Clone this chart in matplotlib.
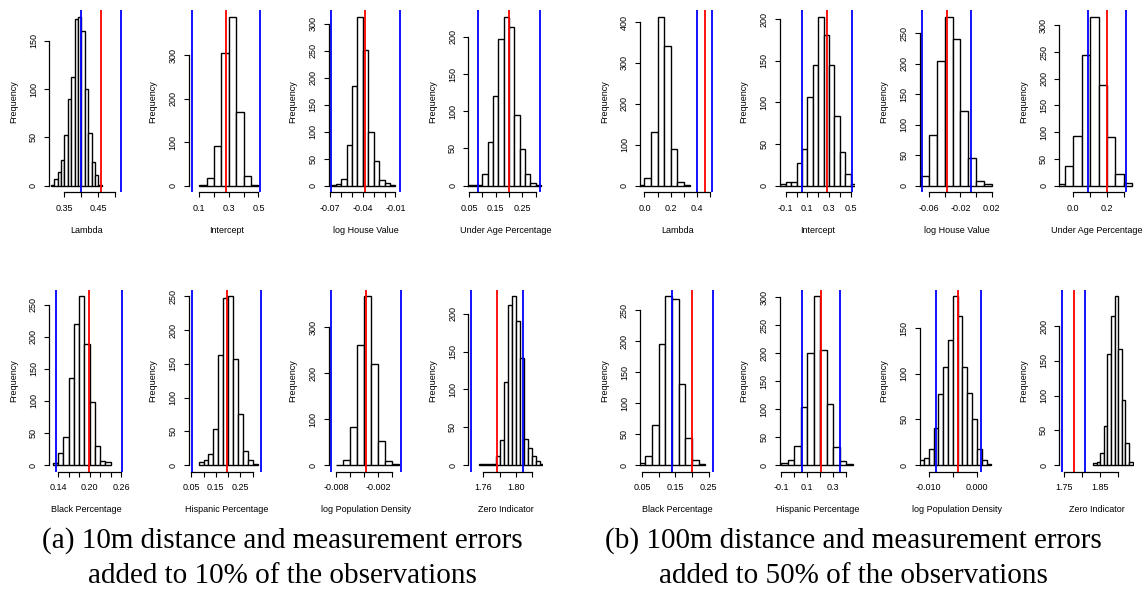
import numpy as np
import matplotlib
matplotlib.use("Agg")
import matplotlib.pyplot as plt
from matplotlib.transforms import offset_copy

# ---------------- data: (a) 10m errors on 10% of observations ----------------
lam10_breaks = [0.31, 0.32, 0.33, 0.34, 0.35, 0.36, 0.37, 0.38, 0.39, 0.40,
                0.41, 0.42, 0.43, 0.44, 0.45, 0.46]
lam10_counts = [1, 7, 14, 26, 52, 90, 113, 173, 175, 160, 100, 54, 24, 11, 1]
lam10_lines = [0.399, 0.457, 0.516]
lam10_ticks = [0.35, 0.40, 0.45, 0.50]
lam10_labels = ["0.35", "", "0.45", ""]

int10_breaks = [0.10, 0.15, 0.20, 0.25, 0.30, 0.35, 0.40, 0.45, 0.50]
int10_counts = [2, 17, 90, 305, 388, 169, 21, 2]
int10_lines = [0.048, 0.283, 0.514]
int10_ticks = [0.1, 0.2, 0.3, 0.4, 0.5]
int10_labels = ["0.1", "", "0.3", "", "0.5"]

hv10_breaks = [-0.070, -0.065, -0.060, -0.055, -0.050, -0.045, -0.040,
               -0.035, -0.030, -0.025, -0.020, -0.015, -0.010]
hv10_counts = [1, 3, 12, 76, 185, 313, 251, 100, 45, 10, 4, 1]
hv10_lines = [-0.069, -0.0378, -0.0058]
hv10_ticks = [-0.07, -0.06, -0.05, -0.04, -0.03, -0.02, -0.01]
hv10_labels = ["-0.07", "", "", "-0.04", "", "", "-0.01"]

age10_breaks = [0.04, 0.06, 0.08, 0.10, 0.12, 0.14, 0.16, 0.18, 0.20,
                0.22, 0.24, 0.26, 0.28, 0.30, 0.32]
age10_counts = [1, 1, 1, 16, 59, 120, 197, 227, 213, 95, 49, 16, 4, 1]
age10_lines = [0.085, 0.200, 0.315]
age10_ticks = [0.05, 0.10, 0.15, 0.20, 0.25, 0.30]
age10_labels = ["0.05", "", "0.15", "", "0.25", ""]

blk10_breaks = [0.13, 0.14, 0.15, 0.16, 0.17, 0.18, 0.19, 0.20, 0.21,
                0.22, 0.23, 0.24]
blk10_counts = [3, 18, 43, 136, 219, 263, 189, 99, 29, 7, 4]
blk10_lines = [0.135, 0.1985, 0.262]
blk10_ticks = [0.14, 0.16, 0.18, 0.20, 0.22, 0.24, 0.26]
blk10_labels = ["0.14", "", "", "0.20", "", "", "0.26"]

his10_breaks = [0.08, 0.10, 0.12, 0.14, 0.16, 0.18, 0.20, 0.22, 0.24,
                0.26, 0.28, 0.30, 0.32]
his10_counts = [4, 7, 17, 53, 163, 248, 250, 157, 76, 21, 7, 1]
his10_lines = [0.052, 0.195, 0.335]
his10_ticks = [0.05, 0.10, 0.15, 0.20, 0.25, 0.30]
his10_labels = ["0.05", "", "0.15", "", "0.25", ""]

pop10_breaks = [-0.008, -0.007, -0.006, -0.005, -0.004, -0.003, -0.002,
                -0.001, 0.000, 0.001]
pop10_counts = [1, 12, 82, 260, 367, 219, 52, 9, 2]
pop10_lines = [-0.00872, -0.0037, 0.00125]
pop10_ticks = [-0.008, -0.006, -0.004, -0.002, 0.000]
pop10_labels = ["-0.008", "", "", "-0.002", ""]

zero10_breaks = [1.755, 1.760, 1.765, 1.770, 1.775, 1.780, 1.785, 1.790,
                 1.795, 1.800, 1.805, 1.810, 1.815, 1.820, 1.825, 1.830, 1.835]
zero10_counts = [1, 1, 1, 2, 12, 33, 110, 212, 223, 190, 141, 35, 23, 12, 6, 1]
zero10_lines = [1.745, 1.777, 1.809]
zero10_ticks = [1.76, 1.78, 1.80, 1.82]
zero10_labels = ["1.76", "", "1.80", ""]

# ---------------- data: (b) 100m errors on 50% of observations ----------------
lam100_breaks = [-0.05, 0.00, 0.05, 0.10, 0.15, 0.20, 0.25, 0.30, 0.35]
lam100_counts = [2, 18, 130, 413, 341, 90, 8, 2]
lam100_lines = [0.399, 0.457, 0.516]
lam100_ticks = [0.0, 0.1, 0.2, 0.3, 0.4, 0.5]
lam100_labels = ["0.0", "", "0.2", "", "0.4", ""]

int100_breaks = [-0.15, -0.10, -0.05, 0.00, 0.05, 0.10, 0.15, 0.20, 0.25,
                 0.30, 0.35, 0.40, 0.45, 0.50, 0.55]
int100_counts = [2, 4, 4, 27, 44, 106, 145, 203, 181, 145, 84, 40, 14, 2]
int100_lines = [0.048, 0.283, 0.514]
int100_ticks = [-0.1, 0.0, 0.1, 0.2, 0.3, 0.4, 0.5]
int100_labels = ["-0.1", "", "0.1", "", "0.3", "", "0.5"]

hv100_breaks = [-0.08, -0.07, -0.06, -0.05, -0.04, -0.03, -0.02, -0.01,
                0.00, 0.01, 0.02]
hv100_counts = [1, 16, 83, 205, 277, 241, 122, 46, 7, 3]
hv100_lines = [-0.069, -0.0378, -0.0058]
hv100_ticks = [-0.06, -0.04, -0.02, 0.00, 0.02]
hv100_labels = ["-0.06", "", "-0.02", "", "0.02"]

age100_breaks = [-0.10, -0.05, 0.00, 0.05, 0.10, 0.15, 0.20, 0.25, 0.30, 0.35]
age100_counts = [3, 37, 92, 245, 316, 189, 91, 22, 5]
age100_lines = [0.085, 0.200, 0.313]
age100_ticks = [0.0, 0.1, 0.2, 0.3]
age100_labels = ["0.0", "", "0.2", ""]

blk100_breaks = [0.04, 0.06, 0.08, 0.10, 0.12, 0.14, 0.16, 0.18, 0.20,
                 0.22, 0.24]
blk100_counts = [4, 15, 65, 195, 273, 268, 131, 43, 8, 2]
blk100_lines = [0.141, 0.201, 0.263]
blk100_ticks = [0.05, 0.10, 0.15, 0.20, 0.25]
blk100_labels = ["0.05", "", "0.15", "", "0.25"]

his100_breaks = [-0.10, -0.05, 0.00, 0.05, 0.10, 0.15, 0.20, 0.25, 0.30,
                 0.35, 0.40, 0.45]
his100_counts = [4, 9, 34, 104, 201, 302, 206, 109, 32, 7, 2]
his100_lines = [0.056, 0.205, 0.351]
his100_ticks = [-0.1, 0.0, 0.1, 0.2, 0.3, 0.4]
his100_labels = ["-0.1", "", "0.1", "", "0.3", ""]

pop100_breaks = [-0.012, -0.011, -0.010, -0.009, -0.008, -0.007, -0.006,
                 -0.005, -0.004, -0.003, -0.002, -0.001, 0.000, 0.001,
                 0.002, 0.003]
pop100_counts = [5, 8, 18, 41, 78, 108, 137, 185, 163, 108, 79, 51, 18, 5, 1]
pop100_lines = [-0.0086, -0.0039, 0.0008]
pop100_ticks = [-0.010, -0.005, 0.000]
pop100_labels = ["-0.010", "", "0.000"]

zero100_breaks = [1.83, 1.84, 1.85, 1.86, 1.87, 1.88, 1.89, 1.90, 1.91,
                  1.92, 1.93, 1.94]
zero100_counts = [3, 5, 18, 56, 160, 215, 243, 167, 94, 32, 5]
zero100_lines = [1.745, 1.777, 1.809]
zero100_ticks = [1.75, 1.80, 1.85, 1.90]
zero100_labels = ["1.75", "", "1.85", ""]

var_names = ["Lambda", "Intercept", "log House Value", "Under Age Percentage",
             "Black Percentage", "Hispanic Percentage", "log Population Density",
             "Zero Indicator"]

captions = [("(a) 10m distance and measurement errors",
             "added to 10% of the observations"),
            ("(b) 100m distance and measurement errors",
             "added to 50% of the observations")]

# x ranges of each plot region (axis limits, as in the reference)
xlims_10 = [(0.3058, 0.5264), (0.030, 0.538), (-0.0715, -0.0023), (0.048, 0.329),
            (0.123, 0.266), (0.0407, 0.3463), (-0.00912, 0.00165), (1.7414, 1.8342)]
xlims_100 = [(-0.031, 0.5385), (-0.1526, 0.540), (-0.0723, 0.0240), (-0.082, 0.362),
             (0.045, 0.270), (-0.110, 0.467), (-0.0119, 0.0037), (1.7366, 1.945)]

group_10 = [
    (lam10_breaks, lam10_counts, lam10_lines, lam10_ticks, lam10_labels),
    (int10_breaks, int10_counts, int10_lines, int10_ticks, int10_labels),
    (hv10_breaks, hv10_counts, hv10_lines, hv10_ticks, hv10_labels),
    (age10_breaks, age10_counts, age10_lines, age10_ticks, age10_labels),
    (blk10_breaks, blk10_counts, blk10_lines, blk10_ticks, blk10_labels),
    (his10_breaks, his10_counts, his10_lines, his10_ticks, his10_labels),
    (pop10_breaks, pop10_counts, pop10_lines, pop10_ticks, pop10_labels),
    (zero10_breaks, zero10_counts, zero10_lines, zero10_ticks, zero10_labels),
]
group_100 = [
    (lam100_breaks, lam100_counts, lam100_lines, lam100_ticks, lam100_labels),
    (int100_breaks, int100_counts, int100_lines, int100_ticks, int100_labels),
    (hv100_breaks, hv100_counts, hv100_lines, hv100_ticks, hv100_labels),
    (age100_breaks, age100_counts, age100_lines, age100_ticks, age100_labels),
    (blk100_breaks, blk100_counts, blk100_lines, blk100_ticks, blk100_labels),
    (his100_breaks, his100_counts, his100_lines, his100_ticks, his100_labels),
    (pop100_breaks, pop100_counts, pop100_lines, pop100_ticks, pop100_labels),
    (zero100_breaks, zero100_counts, zero100_lines, zero100_ticks, zero100_labels),
]

# ---------------- layout (pixels) ----------------
W, H = 1143, 590
PANEL_W, PANEL_H = 75, 182.3
COL_STEP = 139.7
GROUP_LEFT = [49.3, 640.3]
ROW_TOP = [10, 289.5]
CAPTION_X = [282, 853]
SANS = "Liberation Sans"
FS = 6.5

fig = plt.figure(figsize=(W / 100, H / 100), dpi=100)


def draw_hist(ax, xlabel, breaks, counts, lines, ticks, labels, xlim):
    breaks = np.asarray(breaks)
    counts = np.asarray(counts)
    ax.bar(breaks[:-1], counts, width=np.diff(breaks), align="edge",
           color="white", edgecolor="black", linewidth=1.0)
    for v, c in zip(lines, ["#0000ff", "#ff0000", "#0000ff"]):
        ax.axvline(v, color=c, lw=1.3)

    top = counts.max()
    ax.set_xlim(*xlim)
    ax.set_ylim(-0.04 * top, 1.04 * top)

    step = 100 if top > 350 else 50
    yt = np.arange(0, top + 1, step)
    ax.set_yticks(yt, [str(int(v)) for v in yt])
    ax.set_xticks(ticks, labels)

    for s in ["top", "right"]:
        ax.spines[s].set_visible(False)
    ax.spines["left"].set_bounds(yt[0], yt[-1])
    ax.spines["bottom"].set_bounds(ticks[0], ticks[-1])
    for s in ["left", "bottom"]:
        ax.spines[s].set_linewidth(0.9)
    ax.tick_params(direction="out", length=3.6, width=0.8, labelsize=FS, pad=4.5)
    for t in ax.get_yticklabels():
        t.set_rotation(90)
        t.set_va("center")
    for t in ax.get_xticklabels() + ax.get_yticklabels():
        t.set_family(SANS)

    ax.text(0.5, 0, xlabel, transform=offset_copy(ax.transAxes, fig, x=0, y=-38, units="dots"),
            ha="center", va="center", fontsize=FS, family=SANS)
    ax.text(0, 0.5, "Frequency", transform=offset_copy(ax.transAxes, fig, x=-36, y=0, units="dots"),
            ha="center", va="center", rotation=90, fontsize=FS, family=SANS)


for g, (group, xlims) in enumerate([(group_10, xlims_10), (group_100, xlims_100)]):
    for k, (spec, xlim) in enumerate(zip(group, xlims)):
        row, col = divmod(k, 4)
        x0 = GROUP_LEFT[g] + col * COL_STEP
        y0 = ROW_TOP[row]
        ax = fig.add_axes([x0 / W, 1 - (y0 + PANEL_H) / H, PANEL_W / W, PANEL_H / H])
        draw_hist(ax, var_names[k], *spec, xlim)

    line1, line2 = captions[g]
    fig.text(CAPTION_X[g] / W, 1 - 548 / H, line1, ha="center", va="baseline",
             fontsize=21, family="Liberation Serif")
    fig.text(CAPTION_X[g] / W, 1 - 583 / H, line2, ha="center", va="baseline",
             fontsize=21, family="Liberation Serif")

fig.savefig("out.png", dpi=100)
